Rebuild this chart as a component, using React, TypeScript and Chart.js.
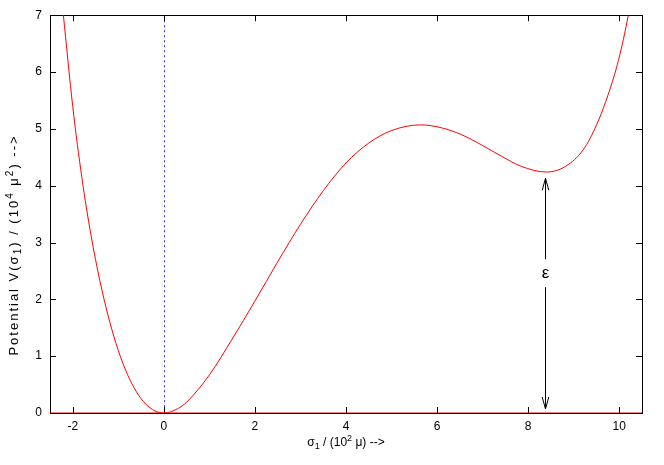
import { useEffect, useRef } from 'react';
import { Chart, registerables } from 'chart.js';

Chart.register(...registerables);

// ---- data ----
const SIGMA = [-2.21, -2.0, -1.8, -1.6, -1.4, -1.2, -1.0, -0.8, -0.6, -0.4, -0.2, 0, 0.3, 0.5, 1.0, 1.5, 2.0, 2.5, 3.0, 3.5, 4.0, 4.5, 5.0, 5.64, 6.09, 6.53, 6.97, 7.41, 7.85, 8.4, 8.88, 9.25, 9.54, 9.76, 9.945, 10.09, 10.2];
const POTENTIAL = [7.03, 5.39, 4.14, 3.13, 2.31, 1.64, 1.1, 0.68, 0.37, 0.16, 0.04, 0, 0.075, 0.19, 0.67, 1.3, 1.97, 2.66, 3.32, 3.91, 4.4, 4.75, 4.97, 5.07, 5.02, 4.9, 4.72, 4.52, 4.34, 4.24, 4.37, 4.68, 5.14, 5.61, 6.09, 6.57, 7.0];
const BASELINE_X = [-2.5, 10.5];
const BASELINE_Y = [0, 0];
const X_TICKS = [-2, 0, 2, 4, 6, 8, 10];
const Y_TICKS = [0, 1, 2, 3, 4, 5, 6, 7];
const ARROW_X = 8.36;
const ARROW_FROM = 0;
const ARROW_TO = 4.13;
const EPS_Y = 2.46;
const EPS_LABEL = 'ε';
const X_TITLE = [
  { t: 'σ', k: 'n' },
  { t: '1', k: 'sub' },
  { t: ' / (10', k: 'n' },
  { t: '2', k: 'sup' },
  { t: ' μ) -->', k: 'n' },
];
const Y_TITLE = [
  { t: 'Potential V(σ', k: 'n' },
  { t: '1', k: 'sub' },
  { t: ') / (10', k: 'n' },
  { t: '4', k: 'sup' },
  { t: ' μ', k: 'n' },
  { t: '2', k: 'sup' },
  { t: ') -->', k: 'n' },
];

const FONT = '"Liberation Sans", Arial, Helvetica, sans-serif';

function drawRich(ctx: CanvasRenderingContext2D, segs: { t: string; k: string }[], size: number, spacing: number) {
  const small = Math.round(size * 0.75);
  const chars: { c: string; k: string; w: number }[] = [];
  let total = 0;
  segs.forEach((s) => {
    ctx.font = `${s.k === 'n' ? size : small}px ${FONT}`;
    for (const c of Array.from(s.t)) {
      const w = ctx.measureText(c).width + spacing;
      chars.push({ c, k: s.k, w });
      total += w;
    }
  });
  total -= spacing;
  let x = -total / 2;
  ctx.textBaseline = 'alphabetic';
  ctx.textAlign = 'left';
  chars.forEach((ch) => {
    ctx.font = `${ch.k === 'n' ? size : small}px ${FONT}`;
    const dy = ch.k === 'sub' ? 3 : ch.k === 'sup' ? -5 : 0;
    ctx.fillText(ch.c, x, dy);
    x += ch.w;
  });
}

const gnuplotPlugin = {
  id: 'gnuplotLook',
  beforeDatasetsDraw(chart: any) {
    const { ctx, chartArea: a, scales } = chart;
    const xs = scales.x;
    const ys = scales.y;
    ctx.save();
    const x0 = Math.round(xs.getPixelForValue(0)) + 0.5;
    ctx.strokeStyle = '#3030ff';
    ctx.lineWidth = 1;
    ctx.setLineDash([2, 3]);
    ctx.beginPath();
    ctx.moveTo(x0, a.top);
    ctx.lineTo(x0, a.bottom);
    ctx.stroke();
    ctx.setLineDash([]);
    ctx.strokeStyle = '#000';
    ctx.strokeRect(Math.round(a.left) + 0.5, Math.round(a.top) + 0.5, Math.round(a.right - a.left), Math.round(a.bottom - a.top));
    const tl = 6;
    ctx.beginPath();
    X_TICKS.forEach((v) => {
      const px = Math.round(xs.getPixelForValue(v)) + 0.5;
      ctx.moveTo(px, a.bottom);
      ctx.lineTo(px, a.bottom - tl);
      ctx.moveTo(px, a.top);
      ctx.lineTo(px, a.top + tl);
    });
    Y_TICKS.forEach((v) => {
      const py = Math.round(ys.getPixelForValue(v)) + 0.5;
      ctx.moveTo(a.left, py);
      ctx.lineTo(a.left + tl, py);
      ctx.moveTo(a.right, py);
      ctx.lineTo(a.right - tl, py);
    });
    ctx.stroke();
    ctx.restore();
  },
  afterDatasetsDraw(chart: any) {
    const { ctx, chartArea: a, scales } = chart;
    const xs = scales.x;
    const ys = scales.y;
    ctx.save();
    const ax = Math.round(xs.getPixelForValue(ARROW_X)) + 0.5;
    const yBot = ys.getPixelForValue(ARROW_FROM) - 4;
    const yTop = ys.getPixelForValue(ARROW_TO);
    const yEps = ys.getPixelForValue(EPS_Y);
    const gap = 14;
    ctx.strokeStyle = '#000';
    ctx.lineWidth = 1;
    ctx.beginPath();
    ctx.moveTo(ax, yTop);
    ctx.lineTo(ax, yEps - gap);
    ctx.moveTo(ax, yEps + gap);
    ctx.lineTo(ax, yBot);
    const hl = 12;
    const hw = 3.3;
    ctx.moveTo(ax - hw, yTop + hl);
    ctx.lineTo(ax, yTop);
    ctx.lineTo(ax + hw, yTop + hl);
    ctx.moveTo(ax - hw, yBot - hl);
    ctx.lineTo(ax, yBot);
    ctx.lineTo(ax + hw, yBot - hl);
    ctx.stroke();
    ctx.fillStyle = '#000';
    ctx.font = `17px ${FONT}`;
    ctx.textAlign = 'center';
    ctx.textBaseline = 'middle';
    ctx.fillText(EPS_LABEL, ax, yEps);
    ctx.fillStyle = '#000';
    ctx.save();
    ctx.translate((a.left + a.right) / 2, 446);
    drawRich(ctx, X_TITLE, 12, 0);
    ctx.restore();
    ctx.save();
    ctx.translate(18, 246);
    ctx.rotate(-Math.PI / 2);
    drawRich(ctx, Y_TITLE, 13, 2.0);
    ctx.restore();
    ctx.restore();
  },
};

export default function App() {
  const ref = useRef<HTMLCanvasElement | null>(null);
  useEffect(() => {
    document.body.style.margin = '0';
    const canvas = ref.current;
    if (!canvas) return;
    const curve = SIGMA.map((x, i) => ({ x, y: POTENTIAL[i] }));
    const base = BASELINE_X.map((x, i) => ({ x, y: BASELINE_Y[i] }));
    const chart = new Chart(canvas, {
      type: 'scatter',
      data: {
        datasets: [
          {
            data: curve,
            showLine: true,
            borderColor: '#ff0000',
            borderWidth: 1,
            pointRadius: 0,
            cubicInterpolationMode: 'monotone',
            fill: false,
          },
          {
            data: base,
            showLine: true,
            borderColor: '#ff0000',
            borderWidth: 1,
            pointRadius: 0,
            fill: false,
          },
        ],
      },
      options: {
        animation: false,
        responsive: false,
        devicePixelRatio: 1,
        layout: { padding: { top: 15, right: 22, left: 0, bottom: 0 } },
        plugins: { legend: { display: false }, tooltip: { enabled: false } },
        scales: {
          x: {
            type: 'linear',
            min: -2.5,
            max: 10.5,
            afterBuildTicks: (s: any) => {
              s.ticks = X_TICKS.map((v) => ({ value: v }));
            },
            afterFit: (s: any) => {
              s.height = 52;
            },
            grid: { display: false, drawTicks: false },
            border: { display: false },
            ticks: { color: '#000', font: { family: FONT, size: 12 }, padding: 6, maxRotation: 0 },
          },
          y: {
            type: 'linear',
            min: 0,
            max: 7,
            afterBuildTicks: (s: any) => {
              s.ticks = Y_TICKS.map((v) => ({ value: v }));
            },
            afterFit: (s: any) => {
              s.width = 50;
            },
            grid: { display: false, drawTicks: false },
            border: { display: false },
            ticks: { color: '#000', font: { family: FONT, size: 12 }, padding: 8 },
          },
        },
      },
      plugins: [gnuplotPlugin],
    } as any);
    return () => chart.destroy();
  }, []);
  return (
    <div style={{ width: 664, height: 465 }}>
      <canvas ref={ref} width={664} height={465} />
    </div>
  );
}
